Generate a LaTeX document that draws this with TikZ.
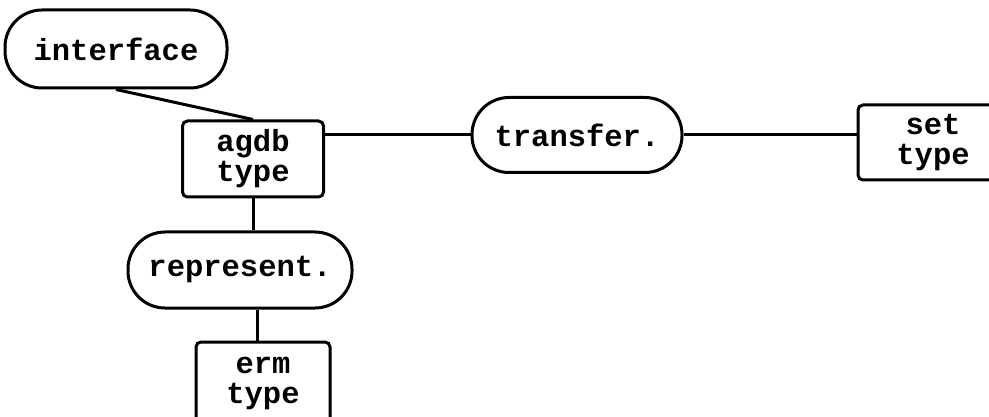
\documentclass[tikz,border=0pt]{standalone}
\usepackage{fontspec}
\setmonofont{Liberation Mono}
\tikzset{
  every picture/.style={x=1pt,y=-1pt},
  lbl/.style={font=\ttfamily\bfseries\fontsize{30.5}{30}\selectfont, align=center, inner sep=0pt},
  pill/.style={lbl, draw, line width=3pt, rounded corners=37pt},
  tbox/.style={lbl, draw, line width=3pt, rounded corners=5pt},
  wire/.style={line width=3pt}
}
\begin{document}
\begin{tikzpicture}
\useasboundingbox (0,0) rectangle (989,417);
\clip (0,0) rectangle (989,417);
\node[pill, minimum width=222pt, minimum height=78pt] (interface) at (116,49) {interface};
\node[tbox, minimum width=141pt, minimum height=76pt] (agdb) at (253,159) {agdb\\type};
\node[pill, minimum width=210pt, minimum height=75pt] (transfer) at (577,135) {transfer.};
\node[tbox, minimum width=150pt, minimum height=75pt] (set) at (933,142.5) {set\\type};
\node[pill, minimum width=224pt, minimum height=76pt] (represent) at (240,270) {represent.};
\node[tbox, minimum width=134pt, minimum height=83pt] (erm) at (263,383.5) {erm\\type};
\draw[wire] (interface.south) -- (agdb.north);
\draw[wire] (transfer.west) -- (transfer.west -| agdb.east);
\draw[wire] (transfer.east) -- (transfer.east -| set.west);
\draw[wire] (agdb.south) -- (agdb.south |- represent.north);
\draw[wire] ([xshift=-6pt]erm.north) -- ([xshift=-6pt]erm.north |- represent.south);
\end{tikzpicture}
\end{document}
